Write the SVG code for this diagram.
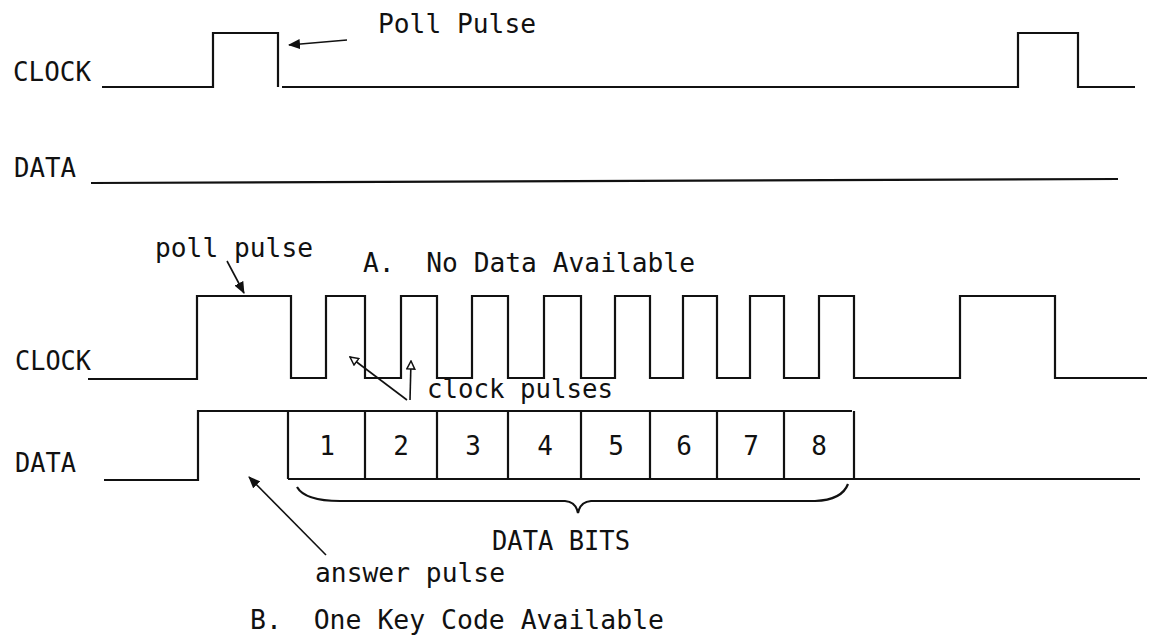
<svg xmlns="http://www.w3.org/2000/svg" width="1155" height="637" viewBox="0 0 1155 637">
<style>
.t{font-family:"DejaVu Sans Mono","Liberation Mono",monospace;font-size:26px;fill:#111}
.w{fill:none;stroke:#111;stroke-width:2.2;stroke-linejoin:miter;stroke-linecap:butt}
.c{fill:none;stroke:#111;stroke-width:1.6}
</style>
<defs>
<marker id="fa" viewBox="0 0 12 10" refX="11" refY="5" markerWidth="12" markerHeight="10" markerUnits="userSpaceOnUse" orient="auto">
<path d="M0,0 L12,5 L0,10 Z" fill="#111"/>
</marker>
<marker id="oa" viewBox="0 0 10 10" refX="9" refY="5" markerWidth="10" markerHeight="10" markerUnits="userSpaceOnUse" orient="auto">
<path d="M1,1 L9,5 L1,9 Z" fill="#fff" stroke="#111" stroke-width="1.5"/>
</marker>
</defs>
<rect width="1155" height="637" fill="#fff"/>

<g id="labels-a">
<text class="t" x="378" y="33" textLength="158" lengthAdjust="spacingAndGlyphs">Poll Pulse</text>
<text class="t" x="13" y="81" textLength="78" lengthAdjust="spacingAndGlyphs">CLOCK</text>
<text class="t" x="14" y="177" textLength="62" lengthAdjust="spacingAndGlyphs">DATA</text>
<text class="t" x="363" y="272" textLength="332" lengthAdjust="spacingAndGlyphs" xml:space="preserve">A.  No Data Available</text>
</g>

<g id="clock-a">
<path class="w" d="M102,87 H213 V33 H278 V87 M282,87 H1018 V33 H1078 V87 H1135"/>
</g>
<g id="data-a">
<path class="w" d="M91,183 L1118,179"/>
</g>

<g id="labels-b">
<text class="t" x="155" y="257" textLength="158" lengthAdjust="spacingAndGlyphs">poll pulse</text>
<text class="t" x="15" y="370" textLength="76" lengthAdjust="spacingAndGlyphs">CLOCK</text>
<text class="t" x="427" y="398" textLength="186" lengthAdjust="spacingAndGlyphs">clock pulses</text>
<text class="t" x="15" y="472" textLength="61" lengthAdjust="spacingAndGlyphs">DATA</text>
<text class="t" x="492" y="550" textLength="138" lengthAdjust="spacingAndGlyphs">DATA BITS</text>
<text class="t" x="315" y="582" textLength="190" lengthAdjust="spacingAndGlyphs">answer pulse</text>
<text class="t" x="250" y="629" textLength="414" lengthAdjust="spacingAndGlyphs" xml:space="preserve">B.  One Key Code Available</text>
</g>

<g id="clock-b">
<path class="w" d="M88,379 H197 V296 H291 V378 H326 V296 H365 V378 H401 V296 H437 V378 H472 V296 H508 V378 H544 V296 H581 V378 H615 V296 H650 V378 H683 V296 H717 V378 H750 V296 H784 V378 H819 V296 H854 V378 H960 V296 H1055 V378 H1147"/>
</g>

<g id="data-b">
<path class="w" d="M104,480 H198 V411 H852 M288,479 H1140 M288,411 V479 M365,411 V479 M437,411 V479 M508,411 V479 M581,411 V479 M650,411 V479 M717,411 V479 M784,411 V479 M854,411 V479"/>
<g class="t" text-anchor="middle">
<text x="327" y="455">1</text>
<text x="401" y="455">2</text>
<text x="473" y="455">3</text>
<text x="545" y="455">4</text>
<text x="616" y="455">5</text>
<text x="684" y="455">6</text>
<text x="751" y="455">7</text>
<text x="819" y="455">8</text>
</g>
</g>

<g id="brace">
<path class="w" d="M297,487 Q305,501 340,501 H565 Q576,502 578,513 Q580,502 591,501 H815 Q842,500 848,484"/>
</g>

<g id="connectors">
<line class="c" x1="347" y1="40" x2="289" y2="45" marker-end="url(#fa)"/>
<line class="c" x1="227" y1="261" x2="244" y2="293" marker-end="url(#fa)"/>
<line class="c" x1="407" y1="400" x2="350" y2="357" marker-end="url(#oa)"/>
<line class="c" x1="410" y1="400" x2="411" y2="361" marker-end="url(#oa)"/>
<line class="c" x1="326" y1="555" x2="249" y2="477" marker-end="url(#fa)"/>
</g>
</svg>
